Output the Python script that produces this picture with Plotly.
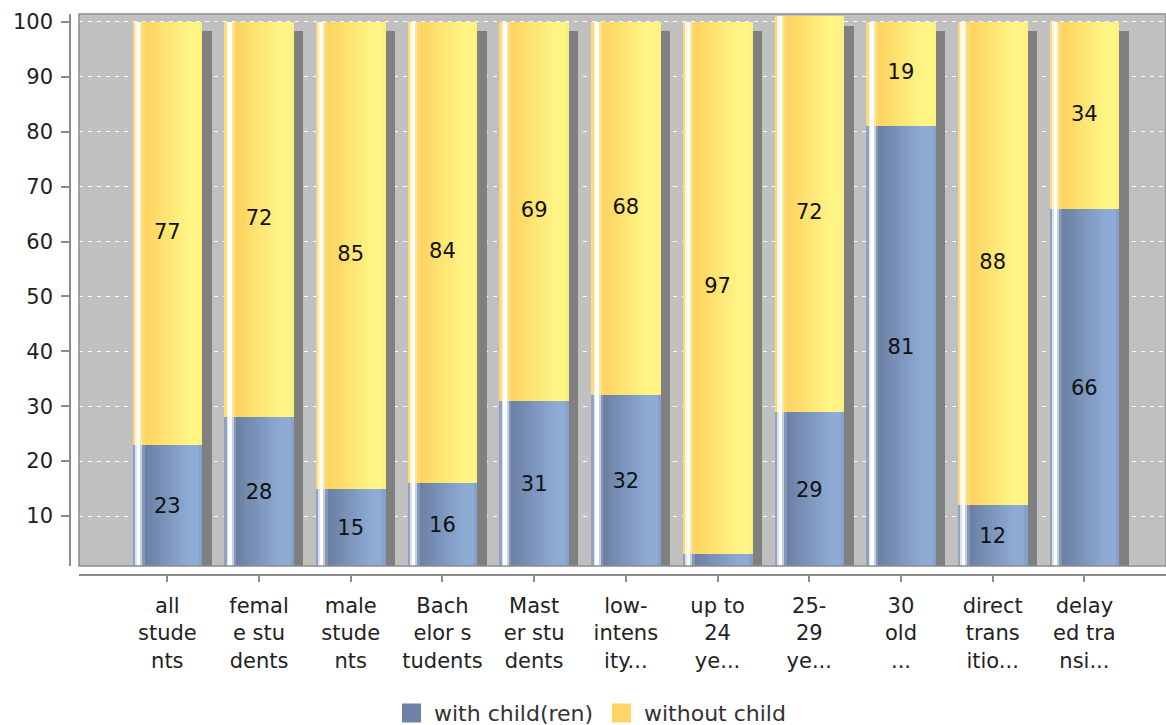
import plotly.graph_objects as go

# ---------------- data ----------------
categories = ["all students", "female students", "male students", "Bachelor students",
              "Master students", "low-intensity...", "up to 24 ye...", "25-29 ye...",
              "30 old ...", "direct transitio...", "delayed transi..."]
tick_labels = ["all<br>stude<br>nts", "femal<br>e stu<br>dents", "male<br>stude<br>nts",
               "Bach<br>elor s<br>tudents", "Mast<br>er stu<br>dents", "low-<br>intens<br>ity...",
               "up to<br>24<br>ye...", "25-<br>29<br>ye...", "30<br>old<br>...",
               "direct<br>trans<br>itio...", "delay<br>ed tra<br>nsi..."]
with_child = [23, 28, 15, 16, 31, 32, 3, 29, 81, 12, 66]
without_child = [77, 72, 85, 84, 69, 68, 97, 72, 19, 88, 34]
series_names = ["with child(ren)", "without child"]
y_ticks = [10, 20, 30, 40, 50, 60, 70, 80, 90, 100]

# ---------------- geometry / style ----------------
W_PX, H_PX = 1166, 725
PLOT_L, PLOT_R, PLOT_T, PLOT_B = 79, 1166, 14, 566
XAXIS_Y, YAXIS_X = 575, 70
PX_PER_CAT = 91.7
BAR_PX = 69.5
X_RANGE = [-0.963, 10.89]
Y_RANGE = [0.9, 101.45]
PX_PER_UNIT = (PLOT_B - PLOT_T) / (Y_RANGE[1] - Y_RANGE[0])
SHADOW_PX = 9.5
FONT = "DejaVu Sans"
LEGEND_COLORS = ["#6d82a6", "#fdd663"]
LEGEND_SQ_X = [402, 612]   # left edge of legend squares (px)
LEGEND_Y = 713
LEGEND_SQ = 19


def hex2rgb(h):
    h = h.lstrip("#")
    return tuple(int(h[i:i + 2], 16) for i in (0, 2, 4))


def mix(c1, c2, t):
    a, b = hex2rgb(c1), hex2rgb(c2)
    return "rgb(%d,%d,%d)" % tuple(round(a[i] + (b[i] - a[i]) * t) for i in range(3))


def profile(edge, pre, dark, light, last):
    segs = [(0, 3.0, edge), (3.0, 4.0, mix(edge, "#ffffff", 0.7)), (4.0, 8.0, "#ffffff"),
            (8.0, 9.5, pre), (9.5, 12.0, mix(pre, dark, 0.7))]
    n = 12
    g0, g1 = 12.0, 56.0
    for i in range(n):
        a = g0 + (g1 - g0) * i / n
        b = g0 + (g1 - g0) * (i + 1) / n
        segs.append((a, b, mix(dark, light, (i + 0.5) / n)))
    segs.append((56.0, 66.5, light))
    segs.append((66.5, BAR_PX, last))
    return segs


blue_profile = profile("#8fa2c4", "#c3d0e6", "#6a7fa2", "#8eabd6", "#86a1cb")
yellow_profile = profile("#fddc78", "#fde7a0", "#fcd35f", "#fff585", "#fdf07e")

xs = list(range(len(categories)))
totals = [a + b for a, b in zip(with_child, without_child)]

fig = go.Figure()

# shadows
fig.add_trace(go.Bar(
    x=xs, y=[t - SHADOW_PX / PX_PER_UNIT for t in totals],
    offset=(-BAR_PX / 2 + SHADOW_PX) / PX_PER_CAT, width=BAR_PX / PX_PER_CAT,
    marker=dict(color="#808080", line=dict(width=0)),
    showlegend=False, hoverinfo="skip"))


def add_strips(values, bases, prof):
    for p0, p1, col in prof:
        fig.add_trace(go.Bar(
            x=xs, y=values, base=bases,
            offset=(-BAR_PX / 2 + p0) / PX_PER_CAT, width=(p1 - p0 + 0.3) / PX_PER_CAT,
            marker=dict(color=col, line=dict(width=0)),
            showlegend=False, hoverinfo="skip"))


add_strips(with_child, [0] * len(xs), blue_profile)
add_strips(without_child, with_child, yellow_profile)

# value labels
fig.add_trace(go.Scatter(
    x=xs, y=[v / 2 for v in with_child],
    text=[str(v) if v >= 5 else "" for v in with_child],
    mode="text", textposition="middle center",
    textfont=dict(family=FONT, size=21, color="#111111"),
    showlegend=False, hoverinfo="skip"))
fig.add_trace(go.Scatter(
    x=xs, y=[a + b / 2 for a, b in zip(with_child, without_child)],
    text=[str(v) if v >= 5 else "" for v in without_child],
    mode="text", textposition="middle center",
    textfont=dict(family=FONT, size=21, color="#111111"),
    showlegend=False, hoverinfo="skip"))

# legend (drawn as shapes + text for exact sizing)
shapes = [dict(type="rect", xref="x domain", yref="y domain", x0=0, x1=1, y0=0, y1=1,
               line=dict(color="#8c8c8c", width=1.5), layer="above")]
annotations = []
for name, col, sx in zip(series_names, LEGEND_COLORS, LEGEND_SQ_X):
    shapes.append(dict(type="rect", xref="paper", yref="paper",
                       x0=sx / W_PX, x1=(sx + LEGEND_SQ) / W_PX,
                       y0=1 - (LEGEND_Y + LEGEND_SQ / 2) / H_PX,
                       y1=1 - (LEGEND_Y - LEGEND_SQ / 2) / H_PX,
                       fillcolor=col, line=dict(color=col, width=0)))
    annotations.append(dict(xref="paper", yref="paper", x=(sx + LEGEND_SQ + 11) / W_PX,
                            y=1 - LEGEND_Y / H_PX, xanchor="left", yanchor="middle",
                            text=name, showarrow=False,
                            font=dict(family=FONT, size=22, color="#333333")))

fig.update_layout(
    width=W_PX, height=H_PX,
    margin=dict(l=0, r=0, t=0, b=0, pad=0, autoexpand=False),
    paper_bgcolor="white", plot_bgcolor="#c0c0c0",
    barmode="overlay", bargap=0,
    font=dict(family=FONT, size=21, color="#222222"),
    showlegend=False,
    xaxis=dict(domain=[PLOT_L / W_PX, PLOT_R / W_PX], anchor="free",
               position=1 - XAXIS_Y / H_PX, range=X_RANGE,
               tickmode="array", tickvals=xs, ticktext=tick_labels,
               ticks="outside", ticklen=6, tickcolor="#8c8c8c", tickwidth=1.5,
               showline=True, linecolor="#8c8c8c", linewidth=1.5,
               showgrid=False, zeroline=False, ticklabelstandoff=6,
               tickfont=dict(family=FONT, size=21, color="#222222")),
    yaxis=dict(domain=[1 - PLOT_B / H_PX, 1 - PLOT_T / H_PX], anchor="free",
               position=YAXIS_X / W_PX, range=Y_RANGE,
               tickmode="array", tickvals=y_ticks,
               ticks="outside", ticklen=8, tickcolor="#8c8c8c", tickwidth=1.5,
               showline=True, linecolor="#8c8c8c", linewidth=1.5,
               showgrid=True, gridcolor="#ffffff", gridwidth=1, griddash="4px,5px",
               zeroline=False, ticklabelstandoff=4,
               tickfont=dict(family=FONT, size=21, color="#222222")),
    shapes=shapes,
    annotations=annotations,
)

fig.write_html("out.html", config={"displayModeBar": False},
               post_script="document.body.style.margin='0';document.body.style.overflow='hidden';")
